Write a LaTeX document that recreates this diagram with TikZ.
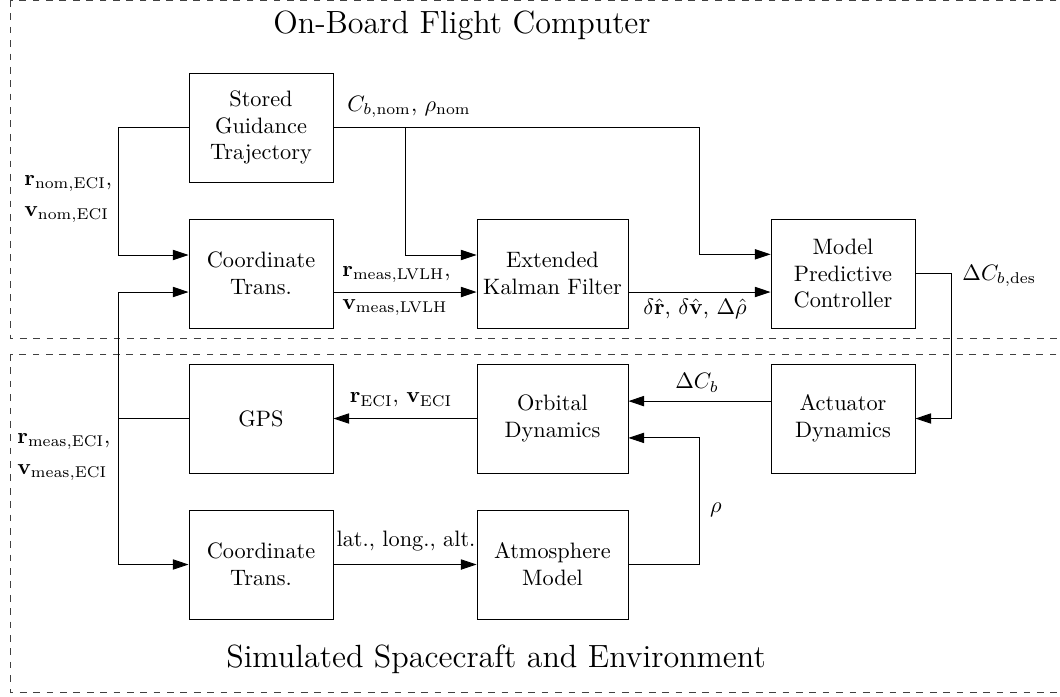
\documentclass[tikz,border=0pt]{standalone}
\usetikzlibrary{arrows.meta,positioning}
\begin{document}
\begin{tikzpicture}[x=0.4484pt,y=-0.4484pt,
  blk/.style={draw,align=center,minimum width=64.6pt,minimum height=48.9pt,inner sep=1pt},
  wblk/.style={blk,minimum width=67.7pt},
  arr/.style={-{Triangle[length=7pt,width=4.6pt]}},
  grp/.style={dashed,black!75},
  lbl/.style={inner sep=0pt,align=left}]
\useasboundingbox (0,0) rectangle (1060,696);
% group frames
\draw[grp] (10,0) rectangle (1085,338);
\draw[grp] (10,354) rectangle (1085,692);
\node[anchor=base,font=\Large] (t1) at (462,33) {On-Board Flight Computer};
\node[anchor=base,font=\Large] (t2) at (496,667) {Simulated Spacecraft and Environment};
% blocks
\node[blk]  (sg)  at (261,127.5) {Stored\\Guidance\\Trajectory};
\node[blk]  (ct1) at (261,273.5) {Coordinate\\Trans.};
\node[wblk] (ekf) at (552.5,273.5) {Extended\\Kalman Filter};
\node[blk]  (mpc) at (843,273.5) {Model\\Predictive\\Controller};
\node[blk]  (gps) at (261,418.5) {GPS};
\node[wblk] (od)  at (552.5,418.5) {Orbital\\Dynamics};
\node[blk]  (ad)  at (843,418.5) {Actuator\\Dynamics};
\node[blk]  (ct2) at (261,564.5) {Coordinate\\Trans.};
\node[wblk] (am)  at (552.5,564.5) {Atmosphere\\Model};
% helper coordinates
\coordinate (lx) at (118,0);
\coordinate (bx) at (405,0);
\coordinate (mx) at (699,0);
\coordinate (rx) at (951,0);
\coordinate (ct1a) at ([yshift=8.3pt]ct1.west);
\coordinate (ct1b) at ([yshift=-8.3pt]ct1.west);
\coordinate (ct1o) at ([yshift=-8.3pt]ct1.east);
\coordinate (ekfa) at ([yshift=8.3pt]ekf.west);
\coordinate (ekfb) at ([yshift=-8.3pt]ekf.west);
\coordinate (ekfo) at ([yshift=-8.3pt]ekf.east);
\coordinate (mpca) at ([yshift=8.6pt]mpc.west);
\coordinate (mpcb) at ([yshift=-8.3pt]mpc.west);
\coordinate (ado)  at ([yshift=7.8pt]ad.west);
\coordinate (oda)  at ([yshift=7.8pt]od.east);
\coordinate (odb)  at ([yshift=-8.7pt]od.east);
% connectors
\draw[arr] (sg.west) -| (lx |- ct1a) -- (ct1a);
\draw[arr] (sg.east) -| (mx |- mpca) -- (mpca);
\draw[arr] (bx |- sg.east) |- (ekfa);
\draw[arr] (ct1o) -- (ekfb);
\draw[arr] (ekfo) -- (mpcb);
\draw[arr] (mpc.east) -| (rx |- ad.east) -- (ad.east);
\draw[arr] (ado) -- (oda);
\draw[arr] (am.east) -| (mx |- odb) -- (odb);
\draw[arr] (od.west) -- (gps.east);
\draw (gps.west) -- (lx |- gps.west);
\draw[arr] (lx |- ct1b) -- (ct1b);
\draw[arr] (lx |- ct1b) |- (ct2.west);
\draw[arr] (ct2.east) -- (am.west);
% labels
\node[lbl,anchor=west] (l1) at (24,199) {$\mathbf{r}_{\mathrm{nom,ECI}}$,\\[2pt]$\mathbf{v}_{\mathrm{nom,ECI}}$};
\node[lbl,anchor=west] (l2) at (17,457) {$\mathbf{r}_{\mathrm{meas,ECI}}$,\\[2pt]$\mathbf{v}_{\mathrm{meas,ECI}}$};
\node[lbl,anchor=west] (l3) at (347,107) {$C_{b,\mathrm{nom}}$, $\rho_{\mathrm{nom}}$};
\node[lbl,anchor=west] (l4) at (342,291) {$\mathbf{r}_{\mathrm{meas,LVLH}}$,\\[3pt]$\mathbf{v}_{\mathrm{meas,LVLH}}$};
\node[lbl] (l5) at (695,309) {$\delta\hat{\mathbf{r}}$, $\delta\hat{\mathbf{v}}$, $\Delta\hat{\rho}$};
\node[lbl,anchor=west] (l6) at (962,276) {$\Delta C_{b,\mathrm{des}}$};
\node[lbl] (l7) at (697,383) {$\Delta C_b$};
\node[lbl] (l8) at (716,510) {$\rho$};
\node[lbl] (l9) at (401,400) {$\mathbf{r}_{\mathrm{ECI}}$, $\mathbf{v}_{\mathrm{ECI}}$};
\node[lbl] (l10) at (406,541) {lat., long., alt.};
\end{tikzpicture}
\end{document}
